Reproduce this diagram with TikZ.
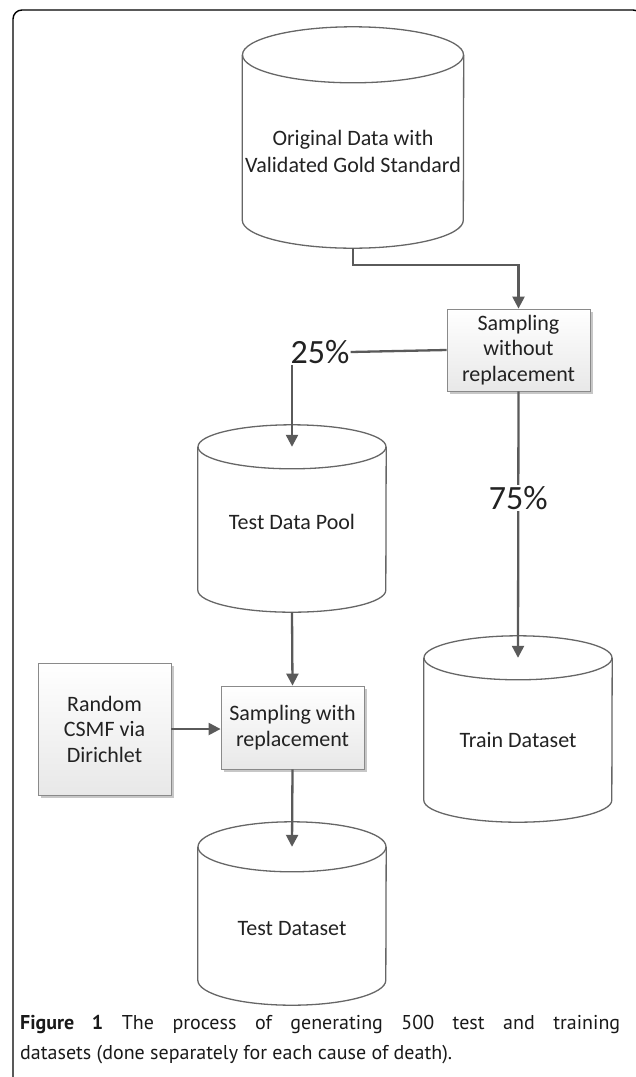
\documentclass[tikz,border=0pt]{standalone}
\usepackage{fontspec}
\setmainfont{Carlito}
\newfontfamily\capfont{PT Sans}
\usetikzlibrary{arrows.meta,shadows,calc}

\definecolor{linegray}{HTML}{5A5A5A}
\definecolor{cylgray}{HTML}{666666}
\definecolor{boxgray}{HTML}{8A8A8A}
\definecolor{textgray}{HTML}{222222}

\tikzstyle{store} = [rectangle, minimum width=188pt, inner sep=0pt]
\tikzstyle{storeline} = [draw=cylgray, line width=1.3pt]
\tikzstyle{storetext} = [align=center, text=textgray, inner sep=0pt,
    font=\fontsize{22}{27}\selectfont]
\tikzstyle{process} = [rectangle, draw=boxgray, line width=0.8pt, top color=white,
    bottom color=black!9, align=center, text=textgray, inner sep=0pt,
    drop shadow={shadow xshift=3pt, shadow yshift=-3pt, fill=black!22, opacity=1},
    font=\fontsize{22}{25.5}\selectfont]
\tikzstyle{pct} = [font=\fontsize{34}{34}\selectfont, text=textgray, inner sep=1pt]
\tikzstyle{flow} = [draw=linegray, line width=2.3pt]
\tikzstyle{arrow} = [flow, -{Triangle[length=12pt,width=12pt]}]
\tikzstyle{captext} = [anchor=base west, inner sep=0pt, text=black!90,
    font=\capfont\fontsize{20}{30}\selectfont]

% outline of a data store round its body node: name, x radius, y radius
\newcommand{\drawstore}[3]{%
  \draw[storeline] (#1.north) ellipse [x radius=#2pt, y radius=#3pt];
  \draw[storeline] (#1.north west) -- (#1.south west)
      arc[start angle=180, end angle=360, x radius=#2pt, y radius=#3pt] -- (#1.north east);
}

\begin{document}
\begin{tikzpicture}[x=1pt,y=-1pt]
\useasboundingbox (0,0) rectangle (636,1077);
\clip (0,0) rectangle (636,1077);

% frame
\draw[line width=1.4pt, rounded corners=9pt] (13,1090) -- (13,10) -- (642,10) -- (642,1090);

% data stores
\node[store, minimum width=221pt, minimum height=165pt] (orig) at (353,137.5) {};
\node[store, minimum height=143pt] (pool) at (292,518.5) {};
\node[store, minimum height=142pt] (train) at (518,729) {};
\node[store, minimum height=133pt] (test) at (292,913.5) {};
\drawstore{orig}{110.5}{28}
\drawstore{pool}{94}{22}
\drawstore{train}{94}{22}
\drawstore{test}{94}{25}
\node[storetext] (origtxt) at ($(orig)+(0,14)$) {Original Data with\\Validated Gold Standard};
\node[storetext] (pooltxt) at ($(pool)+(0,3)$) {Test Data Pool};
\node[storetext] (traintxt) at ($(train)+(0,11)$) {Train Dataset};
\node[storetext] (testtxt) at ($(test)+(0,15)$) {Test Dataset};

% processes
\node[process, minimum width=143pt, minimum height=82pt] (swo) at (518.5,350)
    {Sampling\\without\\replacement};
\node[process, minimum width=143pt, minimum height=83pt] (sw) at (292.5,727.5)
    {Sampling with\\replacement};
\node[process, minimum width=133pt, minimum height=132pt] (csmf) at (104.5,729)
    {Random\\CSMF via\\Dirichlet};

% split labels
\node[pct] (p25) at (320,352) {25\%};

% connectors
\draw[arrow] ($(orig.south)+(0,28)$) -- ++(0,17) -| (swo.north);
\draw[flow] (swo.west) -- (p25.east);
\draw[arrow] (p25.south -| pool.center) -- (pool.north);
\draw[arrow] (swo.south) -- (train.north)
    node[pct, fill=white, pos=0.4] (p75) {75\%};
\draw[arrow] ($(pool.south)+(0,22)$) -- (sw.north);
\draw[arrow] (csmf.east) -- (csmf.east -| sw.west);
\draw[arrow] (sw.south) -- (test.north);

% caption
\node[captext] (cap1) at (20,1029)
    {\makebox[600pt][s]{\textbf{Figure 1} The process of generating 500 test and training}};
\node[captext] (cap2) at (20,1059)
    {datasets (done separately for each cause of death).};
\end{tikzpicture}
\end{document}
